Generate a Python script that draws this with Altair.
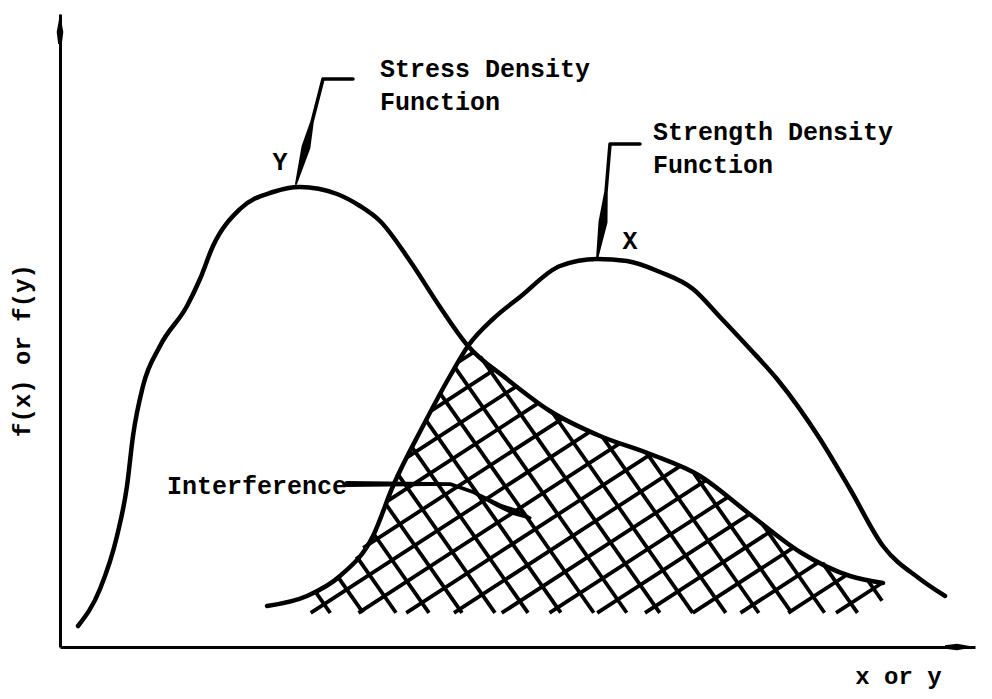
import altair as alt
import numpy as np
import pandas as pd

# ---- data (x: distance right of the y-axis, y: height above the x-axis) ----
stress_x = [18, 40, 57, 67, 73, 83, 100, 127, 140, 153, 180, 213, 240, 277, 300, 320, 350, 380,
            408, 447, 490, 540, 590, 640, 687, 740, 790, 823]
stress_y = [21, 58, 111, 161, 211, 261, 301, 341, 368, 401, 438, 455, 460, 453, 441, 426, 386, 340,
            301, 268, 236, 211, 193, 171, 135, 95, 71, 64]

strength_x = [207, 247, 280, 313, 333, 363, 390, 408, 433, 460, 500, 537, 567, 600, 633, 660, 690,
              717, 760, 790, 823, 860, 885]
strength_y = [41, 51, 71, 111, 161, 221, 271, 301, 328, 350, 381, 388, 386, 375, 358, 330, 298,
              268, 208, 158, 101, 68, 51]

# pointer (leader) lines: id, x, y, width
ptr_id = ["s", "s", "s", "s", "s",
          "t", "t", "t", "t", "t",
          "i", "i", "i", "i", "i", "i"]
ptr_x = [293, 263, 252, 246, 236,
         580, 550, 546, 543, 537,
         287, 390, 413, 440, 455, 470]
ptr_y = [568, 568, 525, 500, 463,
         503, 503, 455, 425, 388,
         163, 163, 155, 141, 135, 129]
ptr_w = [3.5, 3.5, 3.5, 9, 2,
         3.5, 3.5, 3.5, 9, 2,
         6, 3.5, 3.5, 5, 7, 3]

# text labels
lab_text = ["Stress Density", "Function", "Strength Density", "Function", "Interference"]
lab_x = [320, 320, 593, 593, 107]
lab_y = [578, 545, 515, 482, 161]
var_text = ["Y", "X"]
var_x = [220, 570]
var_y = [485, 406]

# interference hatch limits
hatch_x0, hatch_x1, hatch_bottom = 238, 822, 34

# ---- build tables ----
W, H = 915, 633
stress = pd.DataFrame({"x": stress_x, "y": stress_y})
strength = pd.DataFrame({"x": strength_x, "y": strength_y})
ptr = pd.DataFrame({"id": ptr_id, "x": ptr_x, "y": ptr_y, "w": ptr_w, "i": range(len(ptr_x))})
labels = pd.DataFrame({"x": lab_x, "y": lab_y, "t": lab_text})
vars_ = pd.DataFrame({"x": var_x, "y": var_y, "t": var_text})

# hatch segments clipped to the region under both curves
def top(xv):
    return np.minimum(np.interp(xv, stress_x, stress_y), np.interp(xv, strength_x, strength_y))

segs = []
xx = np.arange(hatch_x0, hatch_x1 + 0.25, 0.25)
tt = top(xx)
for ang, pitch in ((33.0, 26.0), (-55.0, 27.0)):
    m = np.tan(np.radians(ang))
    dc = pitch / np.cos(np.radians(ang))
    lo = min((tt - m * xx).min(), (hatch_bottom - m * xx).min()) - 1
    hi = max((tt - m * xx).max(), (hatch_bottom - m * xx).max()) + 1
    for c in np.arange(lo, hi, abs(dc)):
        yy = m * xx + c
        inside = (yy >= hatch_bottom) & (yy <= tt)
        if not inside.any():
            continue
        idx = np.flatnonzero(inside)
        breaks = np.flatnonzero(np.diff(idx) > 1)
        starts = np.r_[idx[0], idx[breaks + 1]]
        ends = np.r_[idx[breaks], idx[-1]]
        for a, b in zip(starts, ends):
            if b - a < 2:
                continue
            segs.append({"x": xx[a], "y": yy[a], "x2": xx[b], "y2": yy[b]})
hatch = pd.DataFrame(segs)

xs = alt.Scale(domain=[0, W], nice=False, zero=False)
ys = alt.Scale(domain=[0, H], nice=False, zero=False)
FONT = "Liberation Mono"
x_axis = alt.Axis(title="x or y", domain=True, domainWidth=3, domainColor="black", ticks=False,
                  labels=False, grid=False, titleFont=FONT, titleFontSize=24, titleFontWeight="bold",
                  titleColor="black", titleX=838, titleY=36, titleBaseline="alphabetic",
                  titleAlign="center")
y_axis = alt.Axis(title="f(x) or f(y)", domain=True, domainWidth=3, domainColor="black", ticks=False,
                  labels=False, grid=False, titleFont=FONT, titleFontSize=24, titleFontWeight="bold",
                  titleColor="black", titleAngle=270, titleX=-38, titleY=336,
                  titleBaseline="middle", titleAlign="center")
X = alt.X("x:Q", scale=xs, axis=x_axis)
Y = alt.Y("y:Q", scale=ys, axis=y_axis)

hatch_layer = alt.Chart(hatch).mark_rule(color="black", strokeWidth=3.8).encode(
    x=X, y=Y, x2="x2:Q", y2="y2:Q")
stress_layer = alt.Chart(stress).mark_line(color="black", strokeWidth=4.5, interpolate="monotone",
                                           strokeCap="round").encode(x=X, y=Y)
strength_layer = alt.Chart(strength).mark_line(color="black", strokeWidth=4.5, interpolate="monotone",
                                               strokeCap="round").encode(x=X, y=Y)
ptr_layer = alt.Chart(ptr).mark_trail(color="black").encode(
    x=X, y=Y, size=alt.Size("w:Q", scale=None), detail="id:N", order="i:Q")
label_layer = alt.Chart(labels).mark_text(font=FONT, fontWeight="bold", fontSize=25, align="left",
                                          baseline="middle", color="black").encode(x=X, y=Y, text="t:N")
var_layer = alt.Chart(vars_).mark_text(font=FONT, fontWeight="bold", fontSize=25, align="center",
                                       baseline="middle", color="black").encode(x=X, y=Y, text="t:N")
yarrow = alt.Chart(pd.DataFrame({"x": [0], "y": [H - 15]})).mark_point(
    shape="M0,-1L0.22,0.2L0.12,1L-0.12,1L-0.22,0.2Z", size=900, filled=True, color="black",
    opacity=1).encode(x=X, y=Y)
xarrow = alt.Chart(pd.DataFrame({"x": [W - 15], "y": [0]})).mark_point(
    shape="M1,0L-0.2,0.22L-1,0.12L-1,-0.12L-0.2,-0.22Z", size=900, filled=True, color="black",
    opacity=1).encode(x=X, y=Y)

chart = alt.layer(hatch_layer, stress_layer, strength_layer, ptr_layer, label_layer, var_layer,
                  yarrow, xarrow).properties(
    width=W, height=H, autosize=alt.AutoSizeParams(type="none"),
    padding={"left": 52, "top": 6, "right": 9, "bottom": 44},
    background="white",
).configure_view(stroke=None)

chart.save("out.html", embed_options={"renderer": "svg", "actions": False})
